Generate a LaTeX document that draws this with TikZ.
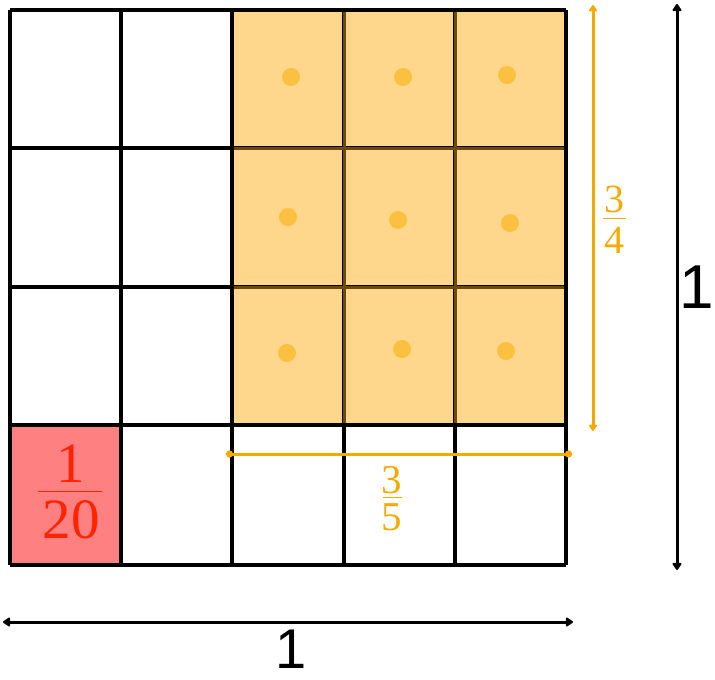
\documentclass[tikz,border=0pt]{standalone}
\usepackage{fontspec}
\setmainfont{Liberation Serif}
\newfontfamily\labsans{Liberation Sans}
\usetikzlibrary{arrows.meta}
\definecolor{cellorange}{RGB}{255,215,140}
\definecolor{cellred}{RGB}{255,128,128}
\definecolor{txtred}{RGB}{255,35,0}
\definecolor{dotorange}{RGB}{252,192,64}
\definecolor{gridbrown}{RGB}{110,74,10}
\definecolor{arrorange}{RGB}{245,170,0}
\tikzset{
  gridline/.style={line width=3.4pt,black},
  innerline/.style={line width=3pt,gridbrown},
  dimblack/.style={line width=3pt,black,{Triangle[round,length=8pt,width=10pt]}-{Triangle[round,length=8pt,width=10pt]}},
  dimorange/.style={line width=3pt,arrorange},
  fracnum/.style={inner sep=0pt,anchor=base},
  celldot/.style={circle,fill=dotorange,minimum size=18pt,inner sep=0pt},
}
\begin{document}
\begin{tikzpicture}[x=1pt,y=-1pt]
\useasboundingbox (0,0) rectangle (715,680);
% fills
\fill[cellorange] (232,10) rectangle (566,425);
\fill[cellred] (10,425) rectangle (121,565);
% dots
\foreach \px/\py [count=\i] in {291/77,403/77,507/75,288/217,398/220,510/223,287/353,402/349,506/351}
  \node[celldot] (d\i) at (\px,\py) {};
% grid
\foreach \gx in {10,121,232,344,455,566}
  \draw[gridline] (\gx,10) -- (\gx,565);
\foreach \gy in {10,148,287,425,565}
  \draw[gridline] (10,\gy) -- (566,\gy);
% brown inner lines of the orange block
\foreach \gx in {344,455}
  \draw[innerline] (\gx,11.7) -- (\gx,423.3);
\foreach \gy in {148,287}
  \draw[innerline] (233.7,\gy) -- (564.3,\gy);
% red fraction 1/20
\node[fracnum,font=\fontsize{57}{57}\selectfont,text=txtred] (n20) at (71,482) {1};
\node[fracnum,font=\fontsize{57}{57}\selectfont,text=txtred] (d20) at (71,538) {20};
\draw[txtred,line width=1pt] (38,491) -- (102,491);
% orange dimension 3/4
\coordinate (vtop) at (593,5);
\coordinate (vbot) at (593,431);
\draw[dimorange,{Triangle[round,length=7pt,width=9pt]}-{Triangle[round,length=7pt,width=9pt]}] (vtop) -- (vbot);
\node[fracnum,font=\fontsize{40}{40}\selectfont,text=arrorange] (n34) at (614,212) {3};
\node[fracnum,font=\fontsize{40}{40}\selectfont,text=arrorange] (d34) at (614,253) {4};
\draw[arrorange,line width=0.8pt] (603,218) -- (626,218);
% orange dimension 3/5
\coordinate (hleft) at (226,454);
\coordinate (hright) at (572,454);
\draw[dimorange,{Circle[length=7pt]}-{Circle[length=7pt]}] (hleft) -- (hright);
\node[fracnum,font=\fontsize{41}{41}\selectfont,text=arrorange] (n35) at (392,493) {3};
\node[fracnum,font=\fontsize{41}{41}\selectfont,text=arrorange] (d35) at (392,530) {5};
\draw[arrorange,line width=0.8pt] (383,497) -- (402,497);
% black dimensions
\coordinate (btop) at (677,4);
\coordinate (bbot) at (677,570);
\draw[dimblack] (btop) -- (bbot);
\node[fracnum,font=\labsans\fontsize{62}{62}\selectfont] (one1) at (697,308) {1};
\coordinate (bleft) at (3,622);
\coordinate (bright) at (573,622);
\draw[dimblack] (bleft) -- (bright);
\node[fracnum,font=\labsans\fontsize{56}{56}\selectfont] (one2) at (291,668) {1};
\end{tikzpicture}
\end{document}
